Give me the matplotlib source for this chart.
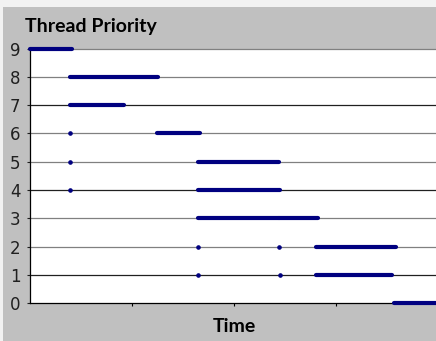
import matplotlib.pyplot as plt
from matplotlib.patches import Rectangle

# priority levels shown on the y axis
priorities = list(range(10))

# thick runs of points: priority level, start time, end time
seg_level = [9, 8, 7, 6, 5, 4, 3, 3, 2, 1, 0]
seg_start = [0, 9.8, 9.8, 31.1, 41.2, 41.2, 41.2, 61.0, 70.1, 70.1, 89.2]
seg_end = [10.3, 31.4, 23.0, 41.7, 61.0, 61.3, 61.0, 70.6, 89.7, 88.7, 100]

# single isolated points
dot_level = [6, 5, 4, 2, 2, 1, 1]
dot_time = [9.8, 9.8, 9.8, 41.2, 61.0, 41.2, 61.3]

x_ticks = [25, 50, 75]

W, H = 436, 341
fig = plt.figure(figsize=(W / 100, H / 100), dpi=100, facecolor='#C0C0C0')
fig.patches.append(Rectangle((0, 1 - 7 / H), 1, 7 / H, transform=fig.transFigure,
                             facecolor='#F2F2F2', edgecolor='none', zorder=0))
fig.patches.append(Rectangle((0, 0), 3 / W, 1, transform=fig.transFigure,
                             facecolor='#F2F2F2', edgecolor='none', zorder=0))

ax = fig.add_axes([30 / W, 1 - 303.3 / H, 408 / W, (303.3 - 48.5) / H])
ax.set_facecolor('white')
ax.set_xlim(0, 100)
ax.set_ylim(0, 9)

# horizontal grid lines
grid_colors = {1: '#202020', 4: '#202020', 7: '#202020'}
for p in priorities[1:]:
    ax.axhline(p, color=grid_colors.get(p, '#808080'), lw=0.9, zorder=1, clip_on=False)

navy = '#000080'
ax.hlines(seg_level, seg_start, seg_end, color=navy, lw=3.0, zorder=3,
          capstyle='round', clip_on=False)
ax.plot(dot_time, dot_level, 'o', color=navy, ms=2.3, zorder=3, clip_on=False)

for side in ['top', 'right']:
    ax.spines[side].set_visible(False)
for side in ['left', 'bottom']:
    ax.spines[side].set_color('black')
    ax.spines[side].set_linewidth(0.9)

ax.set_yticks(priorities)
ax.set_xticks(x_ticks)
ax.set_xticklabels([])
ax.tick_params(axis='y', length=2, width=0.8, pad=5, labelsize=12, colors='#202020')
ax.tick_params(axis='x', length=2.5, width=0.8, direction='out')

fig.text(25 / W, 1 - 32 / H, 'Thread Priority', fontsize=14, fontweight='bold',
         family='Lato', ha='left', va='baseline')
fig.text(234 / W, 1 - 332 / H, 'Time', fontsize=14, fontweight='bold',
         family='Lato', ha='center', va='baseline')

fig.savefig('out.png', dpi=100, facecolor=fig.get_facecolor())
